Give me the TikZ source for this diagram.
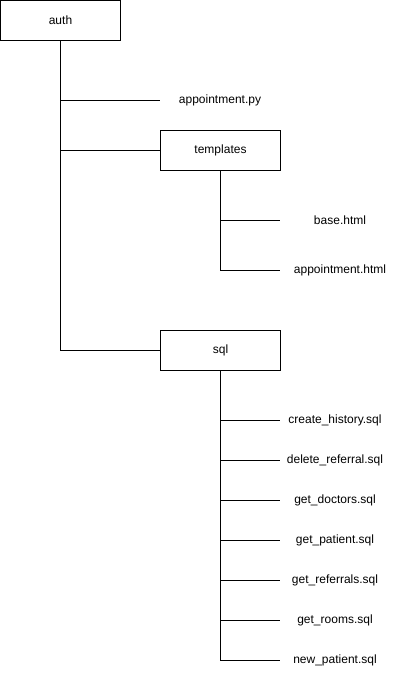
\documentclass[tikz,border=0pt]{standalone}
\usepackage{fontspec}
\setmainfont{Liberation Sans}
\begin{document}
\begin{tikzpicture}[x=1pt,y=-1pt,
  box/.style={draw=black,line width=1pt,minimum width=120pt,minimum height=40pt,inner sep=0pt,font=\fontsize{12}{14}\selectfont},
  lbl/.style={inner sep=0pt,font=\fontsize{12}{14}\selectfont},
  conn/.style={draw=black,line width=1pt}]
\useasboundingbox (0,0) rectangle (401,681);
\node[box] (auth) at (60.5,20.5) {auth};
\node[box] (templates) at (220.5,150.5) {templates};
\node[box] (sql) at (220.5,350.5) {sql};
\node[lbl] (apy) at (220,100.5) {appointment.py};
\node[lbl] (base) at (340,220.5) {base.html};
\node[lbl] (ahtml) at (340,270.5) {appointment.html};
\node[lbl] (s1) at (335,420.5) {create\_history.sql};
\node[lbl] (s2) at (335,460.5) {delete\_referral.sql};
\node[lbl] (s3) at (335,500.5) {get\_doctors.sql};
\node[lbl] (s4) at (335,540.5) {get\_patient.sql};
\node[lbl] (s5) at (335,580.5) {get\_referrals.sql};
\node[lbl] (s6) at (335,620.5) {get\_rooms.sql};
\node[lbl] (s7) at (335,660.5) {new\_patient.sql};
\coordinate (ea) at (160,100.5);
\draw[conn] (auth.south) |- (ea);
\draw[conn] (auth.south) |- (templates.west);
\draw[conn] (auth.south) |- (sql.west);
\draw[conn] (templates.south) |- (280,220.5);
\draw[conn] (templates.south) |- (280,270.5);
\foreach \y/\n in {420.5/s1,460.5/s2,500.5/s3,540.5/s4,580.5/s5,620.5/s6,660.5/s7}{
  \draw[conn] (sql.south) |- (280,\y);
}
\end{tikzpicture}
\end{document}
